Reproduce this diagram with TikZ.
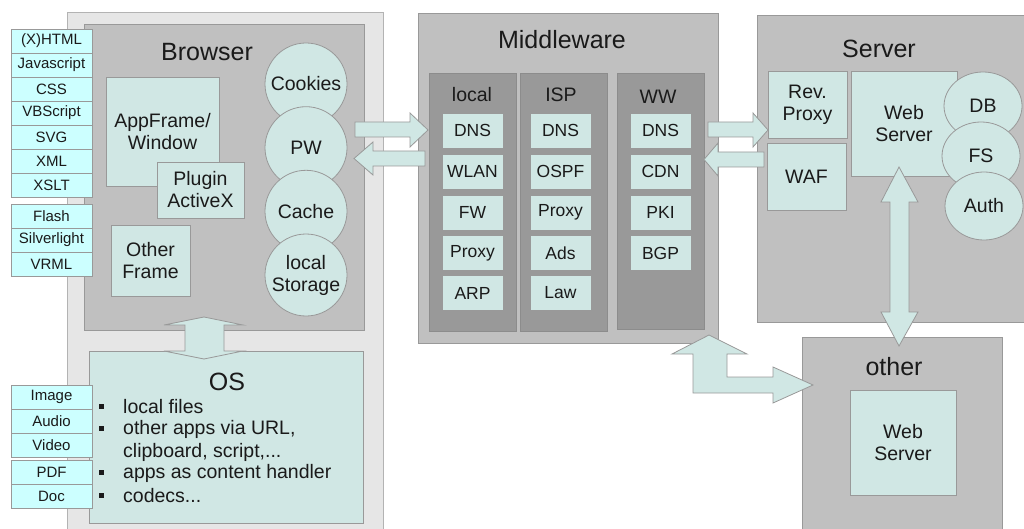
\documentclass[tikz,border=0pt]{standalone}
\usepackage{fontspec}
\setmainfont{Liberation Sans}
\usetikzlibrary{shapes.geometric}

\definecolor{techfill}{HTML}{CCFFFF}
\definecolor{tealfill}{HTML}{D0E7E4}
\definecolor{boxgray}{HTML}{C0C0C0}
\definecolor{colgray}{HTML}{999999}
\definecolor{hostfill}{HTML}{E6E6E6}
\definecolor{hostedge}{HTML}{B3B3B3}
\definecolor{edgegray}{HTML}{999999}
\definecolor{coledge}{HTML}{8C8C8C}
\definecolor{ink}{HTML}{1A1A1A}

\tikzset{
  base/.style={rectangle, inner sep=0pt, text=ink, align=center},
  frame/.style={base, draw=edgegray, line width=0.8pt},
  host/.style={frame, fill=hostfill, draw=hostedge},
  zone/.style={frame, fill=boxgray},
  column/.style={frame, fill=colgray, draw=coledge},
  part/.style={frame, fill=tealfill, font=\fontsize{19.5}{22}\selectfont},
  item/.style={frame, fill=tealfill, minimum width=61pt, minimum height=35pt,
               font=\fontsize{17.5}{20}\selectfont},
  tech/.style={frame, fill=techfill, minimum width=81pt, minimum height=24pt,
               font=\fontsize{15}{17}\selectfont},
  store/.style={circle, draw=edgegray, line width=0.8pt, fill=tealfill,
                minimum size=82pt, inner sep=0pt, text=ink, align=center,
                font=\fontsize{19.5}{22}\selectfont},
  dbstore/.style={ellipse, draw=edgegray, line width=0.8pt, fill=tealfill,
                  minimum width=78pt, minimum height=68pt, inner sep=0pt,
                  text=ink, font=\fontsize{19.5}{22}\selectfont},
  title/.style={text=ink, inner sep=0pt, font=\fontsize{25}{28}\selectfont},
  coltitle/.style={text=ink, inner sep=0pt, font=\fontsize{19.5}{22}\selectfont},
  listline/.style={text=ink, inner sep=0pt, anchor=west,
                   font=\fontsize{19.5}{22}\selectfont},
  bullet/.style={rectangle, fill=ink, minimum size=5pt, inner sep=0pt},
  blockarrow/.style={fill=tealfill, draw=edgegray, line width=0.8pt, line join=miter},
}

\begin{document}
\begin{tikzpicture}[x=1pt, y=-1pt]
\useasboundingbox (0,0) rectangle (1024,529);
\clip (0,0) rectangle (1024,529);

% ---------------- client side ----------------
\node[host, minimum width=316pt, minimum height=528pt] (client) at (225,276) {};
\node[zone, minimum width=280pt, minimum height=306pt] (browser) at (224,177) {};
\node[title] (browsertitle) at (207,52) {Browser};

\node[part, minimum width=113pt, minimum height=109pt] (appframe) at (162.5,131.5) {AppFrame/\\Window};
\node[part, minimum width=87pt, minimum height=56pt] (plugin) at (200.5,190) {Plugin\\ActiveX};
\node[part, minimum width=79pt, minimum height=71pt] (otherframe) at (150.5,260.5) {Other\\Frame};

\node[store] (cookies) at (306,84) {Cookies};
\node[store] (pw) at (306,147.7) {PW};
\node[store] (cache) at (306,211.3) {Cache};
\node[store] (localstorage) at (306,275) {local\\Storage};

% content types handled by the browser
\node[tech] (xhtml) at (51.5,41) {(X)HTML};
\node[tech] (js) at (51.5,65) {Javascript};
\node[tech] (css) at (51.5,89) {CSS};
\node[tech] (vbs) at (51.5,113) {VBScript};
\node[tech] (svg) at (51.5,137) {SVG};
\node[tech] (xml) at (51.5,161) {XML};
\node[tech] (xslt) at (51.5,185) {XSLT};
\node[tech] (flash) at (51.5,216) {Flash};
\node[tech] (silverlight) at (51.5,240) {Silverlight};
\node[tech] (vrml) at (51.5,264) {VRML};

% operating system
\node[part, minimum width=274pt, minimum height=172pt] (os) at (226,437) {};
\node[title] (ostitle) at (227,382) {OS};
\node[bullet] (b1) at (101,406.5) {};
\node[bullet] (b2) at (101,428.5) {};
\node[bullet] (b3) at (101,472.5) {};
\node[bullet] (b4) at (101,495.5) {};
\node[listline] (l1) at (123,407) {local files};
\node[listline] (l2) at (123,429) {other apps via URL,};
\node[listline] (l3) at (123,452) {clipboard, script,...};
\node[listline] (l4) at (123,473) {apps as content handler};
\node[listline] (l5) at (123,496) {codecs...};

\node[tech] (image) at (51.5,397) {Image};
\node[tech] (audio) at (51.5,421) {Audio};
\node[tech] (video) at (51.5,445) {Video};
\node[tech] (pdf) at (51.5,472.5) {PDF};
\node[tech] (doc) at (51.5,496.5) {Doc};

% browser <-> OS
\draw[blockarrow] (204,317) -- (243,325) -- (224,325) -- (224,351) -- (243,351)
  -- (204,359) -- (164,351) -- (185,351) -- (185,325) -- (164,325) -- cycle;

% ---------------- middleware ----------------
\node[zone, minimum width=300pt, minimum height=330pt] (middleware) at (568,178) {};
\node[title] (mwtitle) at (562,40) {Middleware};

\node[column, minimum width=87pt, minimum height=258pt] (colocal) at (472.5,202) {};
\node[column, minimum width=87pt, minimum height=258pt] (colisp) at (563.5,202) {};
\node[column, minimum width=87pt, minimum height=256pt] (colww) at (660.5,201) {};
\node[coltitle] (tlocal) at (472,95) {local};
\node[coltitle] (tisp) at (561,95) {ISP};
\node[coltitle] (tww) at (658,97) {WW};

\node[item] (ldns) at (472.5,130.5) {DNS};
\node[item] (lwlan) at (472.5,171.5) {WLAN};
\node[item] (lfw) at (472.5,212.5) {FW};
\node[item] (lproxy) at (472.5,253) {Proxy};
\node[item] (larp) at (472.5,293) {ARP};

\node[item] (idns) at (560.5,130.5) {DNS};
\node[item] (iospf) at (560.5,171.5) {OSPF};
\node[item] (iproxy) at (560.5,212.5) {Proxy};
\node[item] (iads) at (560.5,253) {Ads};
\node[item] (ilaw) at (560.5,293) {Law};

\node[item] (wdns) at (660.5,130.5) {DNS};
\node[item] (wcdn) at (660.5,171.5) {CDN};
\node[item] (wpki) at (660.5,212.5) {PKI};
\node[item] (wbgp) at (660.5,253) {BGP};

% browser <-> middleware
\draw[blockarrow] (355,122) -- (410,122) -- (410,113) -- (428,130) -- (410,147)
  -- (410,137) -- (355,137) -- cycle;
\draw[blockarrow] (354,158.5) -- (373,142) -- (373,151) -- (425,151) -- (425,166)
  -- (373,166) -- (373,175) -- cycle;

% ---------------- server ----------------
\node[zone, minimum width=290pt, minimum height=307pt] (server) at (902,168.5) {};
\node[title] (srvtitle) at (879,49) {Server};
\node[part, minimum width=79pt, minimum height=67pt] (revproxy) at (807.5,104.5) {Rev.\\Proxy};
\node[part, minimum width=79pt, minimum height=67pt] (waf) at (806.5,176.5) {WAF};
\node[part, minimum width=106pt, minimum height=105pt] (webserver) at (904,123.5) {Web\\Server};
\node[dbstore] (db) at (983,106) {DB};
\node[dbstore] (fs) at (981,156) {FS};
\node[dbstore] (auth) at (984,206) {Auth};

% middleware <-> server
\draw[blockarrow] (708,122) -- (753,122) -- (753,113) -- (768,130) -- (753,147)
  -- (753,137) -- (708,137) -- cycle;
\draw[blockarrow] (704,159.5) -- (718,143) -- (718,152) -- (764,152) -- (764,167)
  -- (718,167) -- (718,176) -- cycle;

% ---------------- other ----------------
\node[zone, minimum width=200pt, minimum height=230pt] (other) at (902,452) {};
\node[title] (othertitle) at (894,367) {other};
\node[part, minimum width=106pt, minimum height=105pt] (otherweb) at (903,442.5) {Web\\Server};

% web server <-> other
\draw[blockarrow] (899,167) -- (918,202) -- (909,202) -- (909,312) -- (918,312)
  -- (899,346) -- (881,312) -- (890,312) -- (890,202) -- (881,202) -- cycle;

% middleware <-> other
\draw[blockarrow] (709,335) -- (747,354) -- (727,354) -- (727,377) -- (773,377)
  -- (773,367) -- (813,385) -- (773,403) -- (773,393) -- (693,393) -- (693,354)
  -- (672,354) -- cycle;
\end{tikzpicture}
\end{document}
